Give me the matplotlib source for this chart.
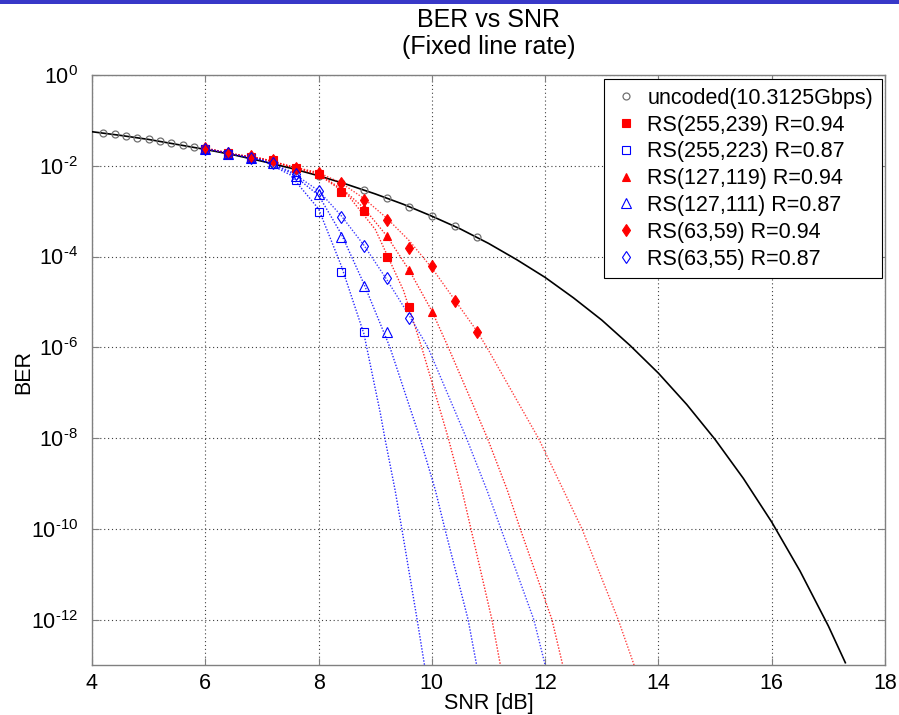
import numpy as np
import matplotlib
matplotlib.use('Agg')
import matplotlib.pyplot as plt
from matplotlib.patches import Rectangle

plt.rcParams['font.family'] = ['Liberation Sans', 'DejaVu Sans']
plt.rcParams['mathtext.fontset'] = 'custom'
plt.rcParams['mathtext.rm'] = 'Liberation Sans'
plt.rcParams['mathtext.it'] = 'Liberation Sans:italic'
plt.rcParams['mathtext.bf'] = 'Liberation Sans:bold'

# ---------------- data (log10 BER) ----------------
# uncoded curve
unc_line_snr = [4.0, 4.5, 5.0, 5.5, 6.0, 6.5, 7.0, 7.5, 8.0, 8.5, 9.0, 9.5, 10.0, 10.5,
                11.0, 11.5, 12.0, 12.5, 13.0, 13.5, 14.0, 14.5, 15.0, 15.5, 16.0, 16.5,
                17.0, 17.3]
unc_line_log = [-1.25, -1.33, -1.42, -1.53, -1.64, -1.76, -1.90, -2.05, -2.22, -2.41,
                -2.62, -2.85, -3.11, -3.39, -3.71, -4.07, -4.46, -4.91, -5.40, -5.96,
                -6.57, -7.26, -8.03, -8.89, -9.85, -10.93, -12.14, -12.95]
unc_mk_snr = [4.2, 4.4, 4.6, 4.8, 5.0, 5.2, 5.4, 5.6, 5.8, 6.0, 6.4, 6.8, 7.2, 7.6, 8.0,
              8.4, 8.8, 9.2, 9.6, 10.0, 10.4, 10.8]
unc_mk_log = [-1.28, -1.31, -1.35, -1.38, -1.42, -1.46, -1.50, -1.55, -1.59, -1.64,
              -1.74, -1.85, -1.96, -2.09, -2.22, -2.37, -2.54, -2.71, -2.91, -3.11,
              -3.33, -3.58]

# RS(255,239)
rs255_239_mk_snr = [6.0, 6.4, 6.8, 7.2, 7.6, 8.0, 8.4, 8.8, 9.2, 9.6]
rs255_239_mk_log = [-1.62, -1.72, -1.80, -1.88, -2.06, -2.18, -2.57, -3.00, -4.00, -5.12]
rs255_239_ln_snr = [6.0, 6.5, 7.0, 7.5, 8.0, 8.5, 9.0, 9.5, 9.82, 10.29, 10.53, 10.69, 11.06, 11.21]
rs255_239_ln_log = [-1.62, -1.75, -1.85, -2.02, -2.20, -2.62, -3.40, -4.75, -6.0, -8.0,
                    -9.14, -10.0, -12.0, -13.0]
# RS(255,223)
rs255_223_mk_snr = [6.0, 6.4, 6.8, 7.2, 7.6, 8.0, 8.4, 8.8]
rs255_223_mk_log = [-1.62, -1.73, -1.83, -1.96, -2.31, -3.02, -4.33, -5.66]
rs255_223_ln_snr = [6.0, 6.5, 7.0, 7.5, 8.0, 8.4, 8.8, 9.09, 9.17, 9.35, 9.47, 9.74, 9.87]
rs255_223_ln_log = [-1.62, -1.75, -1.88, -2.20, -2.95, -4.20, -5.70, -7.45, -8.0, -9.14,
                    -10.0, -12.0, -13.0]
# RS(127,119)
rs127_119_mk_snr = [6.0, 6.4, 6.8, 7.2, 7.6, 8.0, 8.4, 8.8, 9.2, 9.6, 10.0]
rs127_119_mk_log = [-1.61, -1.71, -1.79, -1.87, -2.05, -2.17, -2.55, -2.93, -3.54, -4.30, -5.22]
rs127_119_ln_snr = [6.0, 6.5, 7.0, 7.5, 8.0, 8.5, 8.8, 9.2, 9.6, 10.0, 10.29, 10.98, 11.33,
                    11.56, 12.12, 12.31]
rs127_119_ln_log = [-1.61, -1.74, -1.84, -2.01, -2.17, -2.60, -2.93, -3.54, -4.30, -5.20,
                    -6.0, -8.0, -9.14, -10.0, -12.0, -13.0]
# RS(127,111)
rs127_111_mk_snr = [6.0, 6.4, 6.8, 7.2, 7.6, 8.0, 8.4, 8.8, 9.2]
rs127_111_mk_log = [-1.62, -1.73, -1.82, -1.94, -2.22, -2.62, -3.56, -4.64, -5.67]
rs127_111_ln_snr = [6.0, 6.5, 7.0, 7.5, 8.0, 8.4, 8.8, 9.26, 9.79, 10.06, 10.23, 10.64, 10.79]
rs127_111_ln_log = [-1.62, -1.75, -1.87, -2.15, -2.65, -3.50, -4.60, -6.0, -8.0, -9.14,
                    -10.0, -12.0, -13.0]
# RS(63,59)
rs63_59_mk_snr = [6.0, 6.4, 6.8, 7.2, 7.6, 8.0, 8.4, 8.8, 9.2, 9.6, 10.0, 10.4, 10.8]
rs63_59_mk_log = [-1.61, -1.71, -1.79, -1.87, -2.04, -2.15, -2.38, -2.75, -3.20, -3.81,
                  -4.20, -4.99, -5.67]
rs63_59_ln_snr = [6.0, 6.5, 7.0, 7.5, 8.0, 8.4, 8.8, 9.2, 9.6, 10.0, 10.4, 10.8, 10.97,
                  11.88, 12.32, 12.65, 13.29, 13.57]
rs63_59_ln_log = [-1.61, -1.74, -1.84, -2.01, -2.15, -2.38, -2.72, -3.15, -3.65, -4.25,
                  -4.95, -5.65, -6.0, -8.0, -9.14, -10.0, -12.0, -13.0]
# RS(63,55)
rs63_55_mk_snr = [6.0, 6.4, 6.8, 7.2, 7.6, 8.0, 8.4, 8.8, 9.2, 9.6]
rs63_55_mk_log = [-1.62, -1.72, -1.82, -1.93, -2.18, -2.55, -3.12, -3.76, -4.47, -5.36]
rs63_55_ln_snr = [6.0, 6.5, 7.0, 7.5, 8.0, 8.4, 8.8, 9.2, 9.6, 9.93, 10.61, 10.97, 11.22,
                  11.80, 12.0]
rs63_55_ln_log = [-1.62, -1.75, -1.87, -2.12, -2.55, -3.10, -3.75, -4.50, -5.30, -6.0,
                  -8.0, -9.14, -10.0, -12.0, -13.0]

labels = ['uncoded(10.3125Gbps)', 'RS(255,239) R=0.94', 'RS(255,223) R=0.87',
          'RS(127,119) R=0.94', 'RS(127,111) R=0.87', 'RS(63,59) R=0.94', 'RS(63,55) R=0.87']

x_ticks = [4, 6, 8, 10, 12, 14, 16, 18]
y_tick_exp = [0, -2, -4, -6, -8, -10, -12]

# ---------------- figure ----------------
W, H = 899, 715
fig = plt.figure(figsize=(W / 100, H / 100), dpi=100)
fig.patches.append(Rectangle((0, 1 - 4 / H), 1, 4 / H, transform=fig.transFigure,
                             facecolor='#3838c8', edgecolor='none'))
L, R, T, B = 92, 885, 75, 665
ax = fig.add_axes([L / W, 1 - B / H, (R - L) / W, (B - T) / H])

def p(v):
    return 10.0 ** np.asarray(v)

dot = (0, (1, 1.2))
RED = '#ff0000'
BLUE = '#0000ff'

# lines
ax.plot(unc_line_snr, p(unc_line_log), color='black', lw=1.2, zorder=3)
ax.plot(rs255_239_ln_snr, p(rs255_239_ln_log), color=RED, lw=1.0, ls=dot, alpha=0.85, zorder=3)
ax.plot(rs255_223_ln_snr, p(rs255_223_ln_log), color=BLUE, lw=1.0, ls=dot, alpha=0.85, zorder=3)
ax.plot(rs127_119_ln_snr, p(rs127_119_ln_log), color=RED, lw=1.0, ls=dot, alpha=0.85, zorder=3)
ax.plot(rs127_111_ln_snr, p(rs127_111_ln_log), color=BLUE, lw=1.0, ls=dot, alpha=0.85, zorder=3)
ax.plot(rs63_59_ln_snr, p(rs63_59_ln_log), color=RED, lw=1.0, ls=dot, alpha=0.75, zorder=3)
ax.plot(rs63_55_ln_snr, p(rs63_55_ln_log), color=BLUE, lw=1.0, ls=dot, alpha=0.75, zorder=3)

# markers
ax.plot(unc_mk_snr, p(unc_mk_log), ls='none', marker='o', ms=5, mfc='none', mec='#707070',
        mew=0.9, label=labels[0], zorder=4)
ax.plot(rs255_239_mk_snr, p(rs255_239_mk_log), ls='none', marker='s', ms=5.5, mfc=RED, mec=RED,
        mew=0.8, label=labels[1], zorder=5)
ax.plot(rs255_223_mk_snr, p(rs255_223_mk_log), ls='none', marker='s', ms=6, mfc='none', mec=BLUE,
        mew=0.8, label=labels[2], zorder=5)
ax.plot(rs127_119_mk_snr, p(rs127_119_mk_log), ls='none', marker='^', ms=6, mfc=RED, mec=RED,
        mew=0.8, label=labels[3], zorder=5)
ax.plot(rs127_111_mk_snr, p(rs127_111_mk_log), ls='none', marker='^', ms=6.5, mfc='none', mec=BLUE,
        mew=0.8, label=labels[4], zorder=5)
ax.plot(rs63_59_mk_snr, p(rs63_59_mk_log), ls='none', marker='d', ms=6, mfc=RED, mec=RED,
        mew=0.8, label=labels[5], zorder=5)
ax.plot(rs63_55_mk_snr, p(rs63_55_mk_log), ls='none', marker='d', ms=6.5, mfc='none', mec=BLUE,
        mew=0.8, label=labels[6], zorder=5)

ax.set_yscale('log')
ax.set_xlim(4, 18)
ax.set_ylim(1e-13, 1)
ax.set_xticks(x_ticks)
ax.set_xticklabels([str(t) for t in x_ticks])
ax.set_yticks([10.0 ** e for e in y_tick_exp])
ax.set_yticklabels([r'$10^{%s}$' % (r'\text{-}%d' % (-e) if e < 0 else '%d' % e)
                    for e in y_tick_exp])
ax.minorticks_off()
ax.yaxis.set_minor_locator(matplotlib.ticker.NullLocator())

ax.grid(True, which='major', color='#404040', ls=(0, (1, 2.5)), lw=0.8)
ax.set_axisbelow(True)
for s in ax.spines.values():
    s.set_color('#808080')
    s.set_linewidth(1.0)
ax.tick_params(axis='both', which='major', direction='in', length=5, color='#808080',
               top=True, right=True, labelsize=15.5, labelcolor='black')
ax.tick_params(axis='y', pad=10)
ax.tick_params(axis='x', pad=6)

cx = (L + R) / 2 / W
fig.text(cx, 1 - 20 / H, 'BER vs SNR', ha='center', va='center', fontsize=18)
fig.text(cx, 1 - 47 / H, '(Fixed line rate)', ha='center', va='center', fontsize=18)
fig.text(24 / W, 1 - 372 / H, 'BER', ha='center', va='center', rotation=90, fontsize=15.5)
fig.text(cx, 1 - 703 / H, 'SNR [dB]', ha='center', va='center', fontsize=15.5)

leg = ax.legend(loc='upper right', bbox_to_anchor=(0.996, 0.993), borderaxespad=0,
                fontsize=15.5, frameon=True, fancybox=False, framealpha=1, edgecolor='black',
                borderpad=0.4, labelspacing=0.27, handlelength=1.2, handletextpad=0.4,
                numpoints=1)
leg.get_frame().set_linewidth(0.8)
leg.set_zorder(10)

fig.savefig('out.png', dpi=100)
